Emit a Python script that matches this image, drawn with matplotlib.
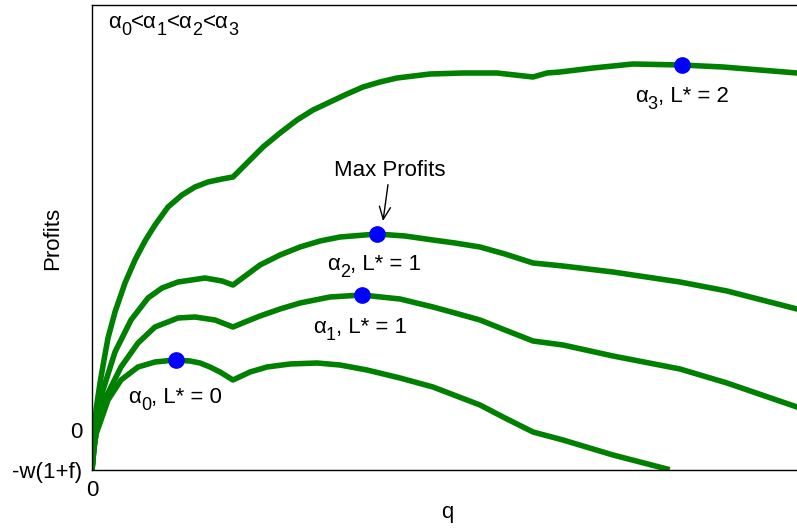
import numpy as np
import matplotlib
matplotlib.use("Agg")
import matplotlib.pyplot as plt
from matplotlib.font_manager import FontProperties
from matplotlib.transforms import offset_copy

FONT = 'Liberation Sans'
plt.rcParams['font.family'] = [FONT, 'DejaVu Sans']
plt.rcParams['font.size'] = 16

# profit curves, one per alpha
q0 = [0, 0.02, 0.04, 0.08, 0.16, 0.29, 0.46, 0.63, 0.83, 0.98, 1.08, 1.18, 1.28, 1.41, 1.58,
      1.75, 1.98, 2.25, 2.48, 2.75, 3.08, 3.41, 3.88, 4.13, 4.41, 4.71, 5.21, 5.75]
p0 = [-0.40, -0.18, -0.04, 0.07, 0.30, 0.50, 0.63, 0.68, 0.70, 0.69, 0.67, 0.63, 0.58, 0.50, 0.58,
      0.63, 0.66, 0.67, 0.65, 0.60, 0.52, 0.43, 0.25, 0.12, -0.02, -0.10, -0.25, -0.39]

q1 = [0, 0.02, 0.04, 0.08, 0.14, 0.29, 0.46, 0.63, 0.86, 1.03, 1.23, 1.41, 1.53, 1.68, 1.88,
      2.08, 2.38, 2.70, 3.08, 3.41, 3.63, 3.88, 4.13, 4.41, 4.71, 5.21, 5.88, 6.35, 7.05, 7.38]
p1 = [-0.40, -0.18, -0.04, 0.18, 0.33, 0.63, 0.87, 1.03, 1.12, 1.13, 1.10, 1.03, 1.08, 1.14, 1.21,
      1.27, 1.33, 1.35, 1.31, 1.23, 1.17, 1.10, 1.00, 0.89, 0.85, 0.74, 0.61, 0.47, 0.23, 0.11]

q2 = [0, 0.02, 0.04, 0.11, 0.23, 0.39, 0.56, 0.70, 0.86, 1.13, 1.30, 1.41, 1.68, 1.88, 2.08,
      2.28, 2.48, 2.85, 3.13, 3.41, 3.63, 3.88, 4.13, 4.41, 4.71, 5.21, 5.88, 6.35, 7.05, 7.38]
p2 = [-0.40, -0.18, -0.02, 0.40, 0.78, 1.10, 1.32, 1.42, 1.48, 1.52, 1.49, 1.45, 1.65, 1.75, 1.83,
      1.89, 1.93, 1.96, 1.94, 1.90, 1.87, 1.83, 1.76, 1.67, 1.64, 1.58, 1.48, 1.39, 1.21, 1.12]

q3 = [0, 0.02, 0.04, 0.08, 0.12, 0.16, 0.23, 0.33, 0.43, 0.53, 0.63, 0.76, 0.90, 1.03, 1.16,
      1.30, 1.41, 1.56, 1.71, 1.88, 2.05, 2.21, 2.38, 2.55, 2.71, 2.88, 3.05, 3.38, 3.71, 4.05,
      4.41, 4.55, 4.68, 5.01, 5.41, 5.90, 6.31, 7.05, 7.38]
p3 = [-0.40, -0.15, 0.20, 0.47, 0.70, 0.92, 1.18, 1.47, 1.70, 1.89, 2.05, 2.23, 2.35, 2.43, 2.48,
      2.51, 2.53, 2.68, 2.83, 2.97, 3.10, 3.20, 3.28, 3.36, 3.43, 3.48, 3.52, 3.56, 3.57, 3.57,
      3.53, 3.57, 3.58, 3.62, 3.66, 3.65, 3.63, 3.57, 3.54]

# maxima
q_max = [0.84, 2.70, 2.85, 5.90]
p_max = [0.70, 1.35, 1.96, 3.65]
max_L = ['0', '1', '1', '2']

fig = plt.figure(figsize=(7.97, 5.29), dpi=100)
ax = fig.add_axes([92/797, 59/529, 738/797, 465/529])

for q, p in [(q0, p0), (q1, p1), (q2, p2), (q3, p3)]:
    ax.plot(q, p, color=(0, 0.5, 0), lw=4)
ax.plot(q_max, p_max, 'o', color='blue', ms=11, zorder=5)

renderer = fig.canvas.get_renderer()


def sub_label(x, y, parts, size=16, sub_size=13, drop=7):
    # parts: list of (text, is_subscript); x, y = left end of baseline in data units
    xoff = 0
    for s, sub in parts:
        fs = sub_size if sub else size
        w, h, d = renderer.get_text_width_height_descent(s, FontProperties(family=FONT, size=fs), False)
        tr = offset_copy(ax.transData, fig=fig, x=xoff, y=-drop if sub else 0, units='dots')
        ax.text(x, y, s, transform=tr, ha='left', va='baseline', fontsize=fs)
        xoff += w


# labels below each max (left start, baseline)
lab_x = [0.36, 2.21, 2.35, 5.43]
lab_y = [0.27, 0.97, 1.60, 3.28]
for i in range(4):
    sub_label(lab_x[i], lab_y[i], [('α', False), (str(i), True), (', L* = ' + max_L[i], False)])

sub_label(0.16, 4.02, [('α', False), ('0', True), ('<α', False), ('1', True),
                       ('<α', False), ('2', True), ('<α', False), ('3', True)])

ax.annotate('Max Profits', xy=(2.91, 2.09), xytext=(2.98, 2.60),
            ha='center', va='center',
            arrowprops=dict(arrowstyle='->, head_length=0.45, head_width=0.2', color='black', lw=1,
                            shrinkA=1, shrinkB=0, mutation_scale=20))

ax.set_xlim(0, 7.38)
ax.set_ylim(-0.4, 4.25)
ax.set_xticks([0])
ax.set_xticklabels(['0'])
ax.set_yticks([-0.4, 0])
ax.set_yticklabels(['-w(1+f)', '0'])
ax.tick_params(direction='in', length=0, pad=7)
ax.set_xlabel('q')
ax.set_ylabel('Profits')
ax.xaxis.set_label_coords(0.482, -0.069)
ax.yaxis.set_label_coords(-0.039, 0.499)
for s in ax.spines.values():
    s.set_linewidth(1)

fig.savefig('out.png', dpi=100)
